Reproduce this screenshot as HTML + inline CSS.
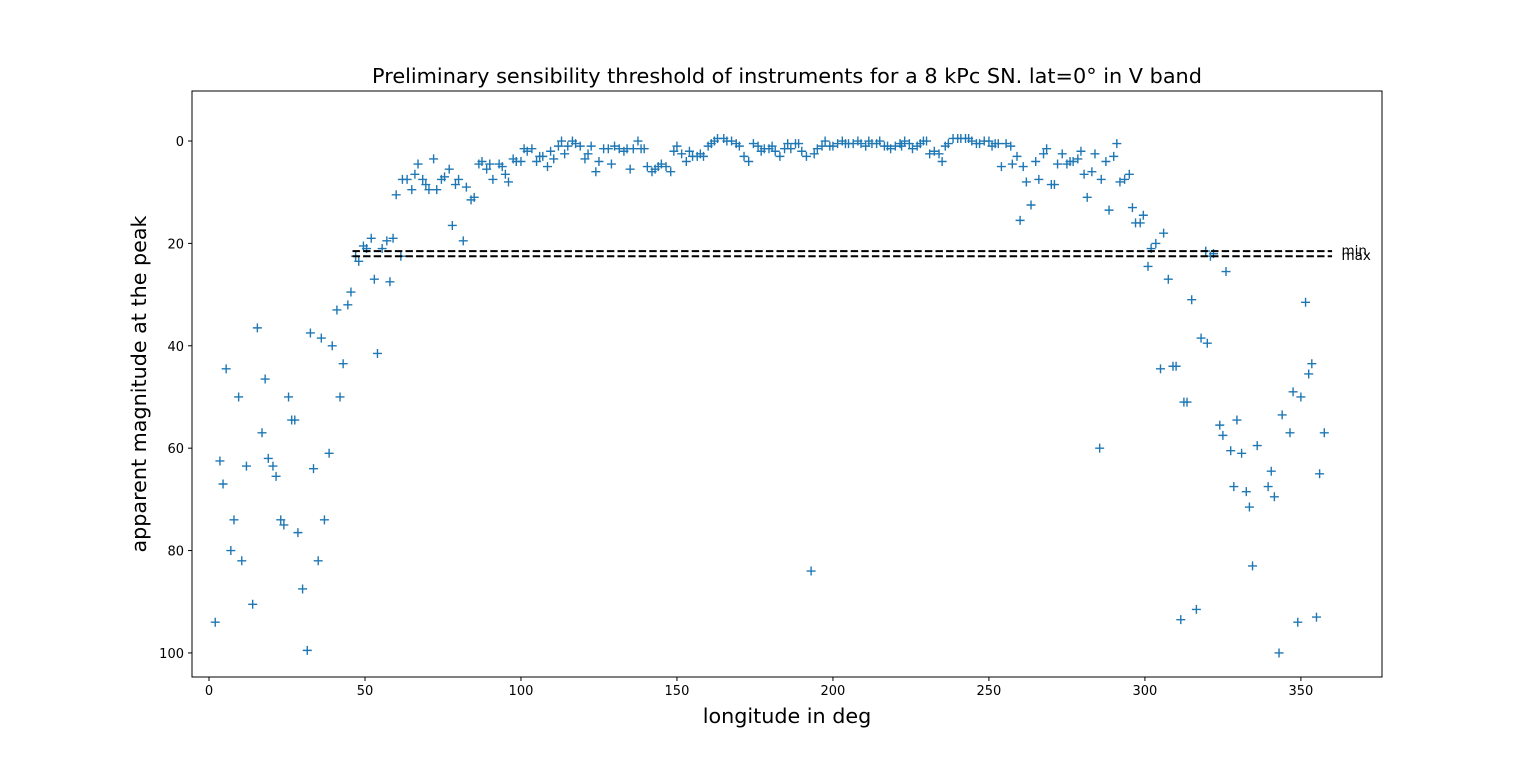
<!DOCTYPE html>
<html><head><meta charset="utf-8"><style>
html,body{margin:0;padding:0;background:#fff;}
svg{display:block;font-family:"DejaVu Sans","Liberation Sans",sans-serif;}
</style></head><body>
<svg id="chart" width="1536" height="761" viewBox="0 0 1536 761" xmlns="http://www.w3.org/2000/svg">
<rect width="1536" height="761" fill="#fff"/>
<text x="787" y="83" font-size="20.8" text-anchor="middle">Preliminary sensibility threshold of instruments for a 8 kPc SN. lat=0° in V band</text>
<g id="marks"></g>
<g id="axes"></g>
<rect x="192" y="91" width="1190" height="586" fill="none" stroke="#000" stroke-width="1"/>
<text x="787" y="723" font-size="20.7" text-anchor="middle">longitude in deg</text>
<text transform="translate(146,384) rotate(-90)" font-size="20.7" text-anchor="middle">apparent magnitude at the peak</text>
</svg>
<script>
const xTicks=[0,50,100,150,200,250,300,350];
const yTicks=[0,20,40,60,80,100];
const thresholdNames=["min","max"];
const thresholdValues=[21.5,22.5];
const longitudes=[2,3.5,4.5,5.5,7,8,9.5,10.5,12,14,15.5,17,18,19,20.5,21.5,23,24,25.5,26.5,27.5,28.5,30,31.5,32.5,33.5,35,36,37,38.5,39.5,41,42,43,44.5,45.5,47,48,49.5,50.5,52,53,54,55.5,57,58,59,60,61.5,62,63.5,65,66,67,68.5,69.5,70.5,72,73,74.5,75.5,77,78,79,80,81.5,82.5,84,85,86.5,87.5,89,90,91,93,94,95,96,97.5,98.5,100,101,102,103.5,105,106,107,108.5,109.5,110.5,112,113,114,115,116.5,117.5,119,120.5,121.5,122.5,124,125,126.5,128,129,130,131.5,133,134,135,136,137.5,138.5,139.5,140.5,142,143,144,145,146.5,148,149,150,151.5,153,154,155,156.5,157.5,158.5,160,161,162,163,165,166,167.5,169,170,171.5,173,174.5,176,177,178,179.5,180.5,181.5,183,184.5,185.5,186.5,188,189,190,191.5,193,194,195,196.5,197.5,199,200,201.5,203,204,205,206.5,208,209,210.5,211.5,212.5,214,215,216.5,217.5,218.5,220,221.5,222,223,224.5,225.5,227,228,229,230,231,232.5,234,235,236,237,238.5,240,241,242.5,243.5,244.5,246,247,248.5,250,251,252,253,254,255.5,257,257.5,259,260,261,262,263.5,265,266,267.5,268.5,270,271,272,273.5,275,276,277,278.5,279.5,280.5,281.5,283,284,285.5,286,287.5,288.5,290,291,292,293.5,295,296,297,298.5,299.5,301,302,303.5,305,306,307.5,309,310,311.5,312.5,313.5,315,316.5,318,320,319.5,321,322,324,325,326,327.5,328.5,329.5,331,332.5,333.5,334.5,336,339.5,340.5,341.5,343,344,346.5,347.5,349,350,351.5,352.5,353.5,355,356,357.5];
const magnitudes=[94,62.5,67,44.5,80,74,50,82,63.5,90.5,36.5,57,46.5,62,63.5,65.5,74,75,50,54.5,54.5,76.5,87.5,99.5,37.5,64,82,38.5,74,61,40,33,50,43.5,32,29.5,22.5,23.5,20.5,21,19,27,41.5,21,19.5,27.5,19,10.5,22.5,7.5,7.5,9.5,6.5,4.5,7.5,8.5,9.5,3.5,9.5,7.5,7,5.5,16.5,8.5,7.5,19.5,9,11.5,11,4.5,4,5.5,4.5,7.5,4.5,5,6.5,8,3.5,4,4,1.5,2,1.5,4,3,3,5,2,3.5,1,0,2.5,1,0,0.5,1,3.5,2.5,1,6,4,1.5,1.5,4.5,1,1.5,2,1.5,5.5,1.5,0,1.5,1.5,5,6,5.5,5,4.5,5,6,2,1,2.5,4,2,3,3,2.5,3,1,0.5,0,-0.5,-0.5,0,0,0.5,1,3,4,0.5,1,2,1.5,1.5,1,2,3,1.5,0.5,1.5,0.5,0.5,2,3,84,2.5,1.5,1,0,1,1,0.5,0,0.5,0.5,0.5,0,0.5,1,0,0.5,0.5,0,1,1,1.5,1,0.5,1,0,0.5,1.5,1,0.5,0,0,2.5,2,2.5,4,1,0.5,-0.5,-0.5,-0.5,-0.5,-0.5,0,0.5,0.5,0,0,1,0.5,0.5,5,0.5,1,4.5,3,15.5,5,8,12.5,4,7.5,2.5,1.5,8.5,8.5,4.5,2.5,4.5,4,4,3.5,2,6.5,11,6,2.5,60,7.5,4,13.5,3,0.5,8,7.5,6.5,13,16,16,14.5,24.5,21,20,44.5,18,27,44,44,93.5,51,51,31,91.5,38.5,39.5,21.5,22.5,22,55.5,57.5,25.5,60.5,67.5,54.5,61,68.5,71.5,83,59.5,67.5,64.5,69.5,100,53.5,57,49,94,50,31.5,45.5,43.5,93,65,57];

const NS="http://www.w3.org/2000/svg";
const L=192,R=1382,T=91,B=677;
const xMin=-5.45,xMax=376.0,yMin=-9.77,yMax=104.7;
function xs(v){return L+(v-xMin)/(xMax-xMin)*(R-L);}
function ys(v){return T+(v-yMin)/(yMax-yMin)*(B-T);}
function mk(tag,attrs,parent){const e=document.createElementNS(NS,tag);for(const k in attrs)e.setAttribute(k,attrs[k]);parent.appendChild(e);return e;}
const marks=document.getElementById('marks');
const axes=document.getElementById('axes');

for(let i=0;i<longitudes.length;i++){
  const cx=xs(longitudes[i]),cy=ys(magnitudes[i]);
  const p=mk('path',{d:`M${cx-4.5},${cy}H${cx+4.5}M${cx},${cy-4.5}V${cy+4.5}`,stroke:'#1f77b4','stroke-width':1.4,fill:'none'},marks);
  
  
}
for(let i=0;i<thresholdValues.length;i++){
  const y=ys(thresholdValues[i]);
  const ln=mk('line',{x1:xs(46),x2:xs(360),y1:y,y2:y,stroke:'#000','stroke-width':2,'stroke-dasharray':'7.4,3.2'},marks);
  
  
  const t=mk('text',{x:xs(363),y:y+4,'font-size':13.5},marks);
  t.textContent=thresholdNames[i];
  
  
}
for(const v of xTicks){
  const x=xs(v);
  const tk=mk('line',{x1:x,x2:x,y1:B,y2:B+4,stroke:'#000'},axes);
  
  
  const t=mk('text',{x:x,y:B+18,'font-size':13,'text-anchor':'middle'},axes);
  t.textContent=v;
  
  
}
for(const v of yTicks){
  const y=ys(v);
  const tk=mk('line',{x1:L-4,x2:L,y1:y,y2:y,stroke:'#000'},axes);
  
  
  const t=mk('text',{x:L-8,y:y+5,'font-size':13,'text-anchor':'end'},axes);
  t.textContent=v;
  
  
}
</script>
</body></html>
